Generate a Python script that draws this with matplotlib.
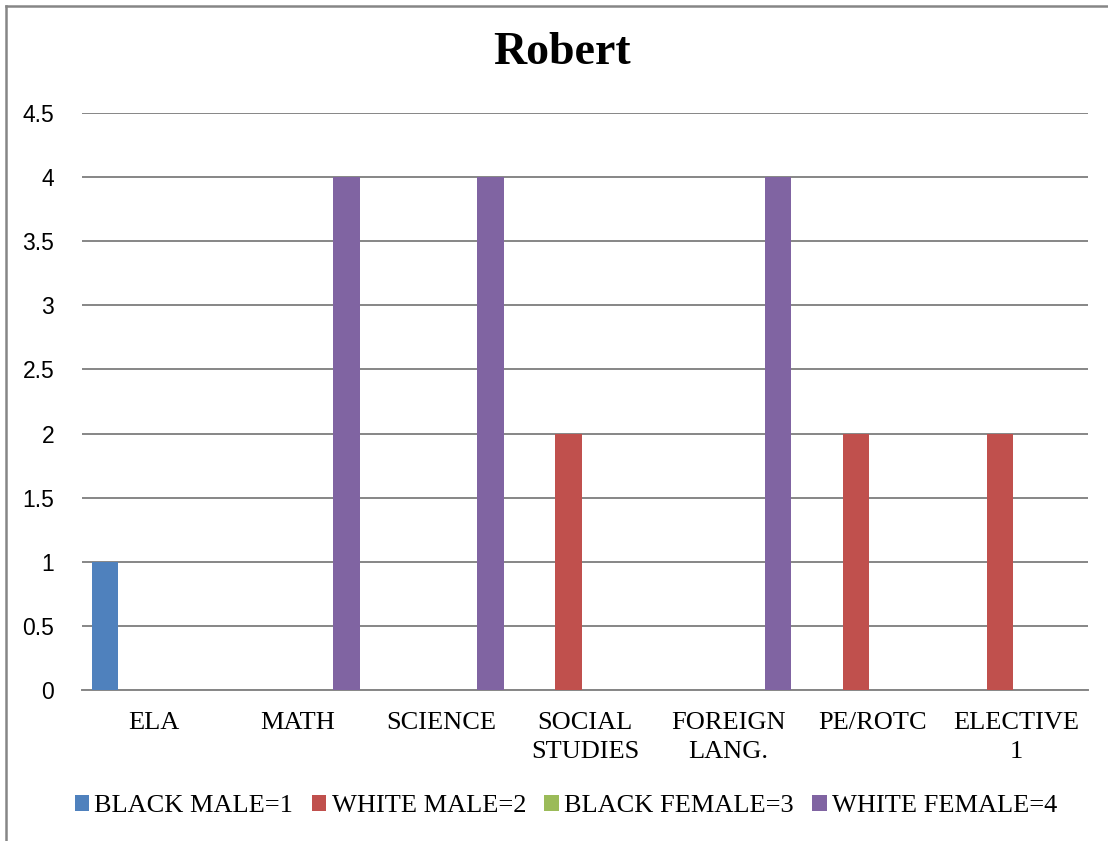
import numpy as np
from matplotlib import pyplot as plt
from matplotlib.lines import Line2D

#----------Data----------#
subjects = ["ELA", "MATH", "SCIENCE", "SOCIAL\nSTUDIES", "FOREIGN\nLANG.", "PE/ROTC", "ELECTIVE\n1"]

black_male = [1, 0, 0, 0, 0, 0, 0]
white_male = [0, 0, 0, 2, 0, 2, 2]
black_female = [0, 0, 0, 0, 0, 0, 0]
white_female = [0, 4, 4, 0, 4, 0, 0]

series = [("BLACK MALE=1", black_male, "#4F81BD"),
          ("WHITE MALE=2", white_male, "#C0504D"),
          ("BLACK FEMALE=3", black_female, "#9BBB59"),
          ("WHITE FEMALE=4", white_female, "#8064A2")]

#----------Figure----------#
fig = plt.figure(figsize=(11.08, 8.41), dpi=100)
ax = fig.add_axes([82/1108, 1 - 690/841, (1088 - 82)/1108, (690 - 113)/841])

x = np.arange(len(subjects))
step = 0.2275
width = 0.184

for i, (name, vals, col) in enumerate(series):
    ax.bar(x + (i - 1.5) * step, vals, width, color=col, label=name, zorder=3)

ax.set_xlim(-0.5, len(subjects) - 0.5)
ax.set_ylim(0, 4.5)
ax.set_yticks(np.arange(0, 4.6, 0.5))
ax.set_yticklabels(["0", "0.5", "1", "1.5", "2", "2.5", "3", "3.5", "4", "4.5"],
                   family="Liberation Sans", fontsize=16.5)
ax.set_xticks(x)
ax.set_xticklabels(subjects, family="Liberation Serif", fontsize=19, linespacing=1.42)
ax.tick_params(axis="both", length=0)
ax.tick_params(axis="x", pad=16)
ax.tick_params(axis="y", pad=20)

ax.yaxis.grid(True, color="#868686", linewidth=1.4, zorder=0)
for s in ["left", "right", "top"]:
    ax.spines[s].set_visible(False)
ax.spines["bottom"].set_color("#868686")
ax.spines["bottom"].set_linewidth(1.4)

# Title
fig.text(562/1108, 1 - 53/841, "Robert", ha="center", va="center",
         family="Liberation Serif", fontsize=33, fontweight="bold")

# Legend
fig.legend(loc="center", bbox_to_anchor=(566/1108, 1 - 806/841), ncol=4,
           frameon=False, prop={"family": "Liberation Serif", "size": 19},
           handlelength=0.55, handleheight=0.55, handletextpad=0.2,
           columnspacing=0.7, borderaxespad=0)

# Chart border (top and left edges visible)
fig.add_artist(Line2D([5.5/1108, 5.5/1108], [0, 1 - 5.5/841], transform=fig.transFigure,
                      color="#868686", linewidth=1.8))
fig.add_artist(Line2D([5.5/1108, 1], [1 - 5.5/841, 1 - 5.5/841], transform=fig.transFigure,
                      color="#868686", linewidth=1.8))

fig.savefig("out.png", dpi=100)
